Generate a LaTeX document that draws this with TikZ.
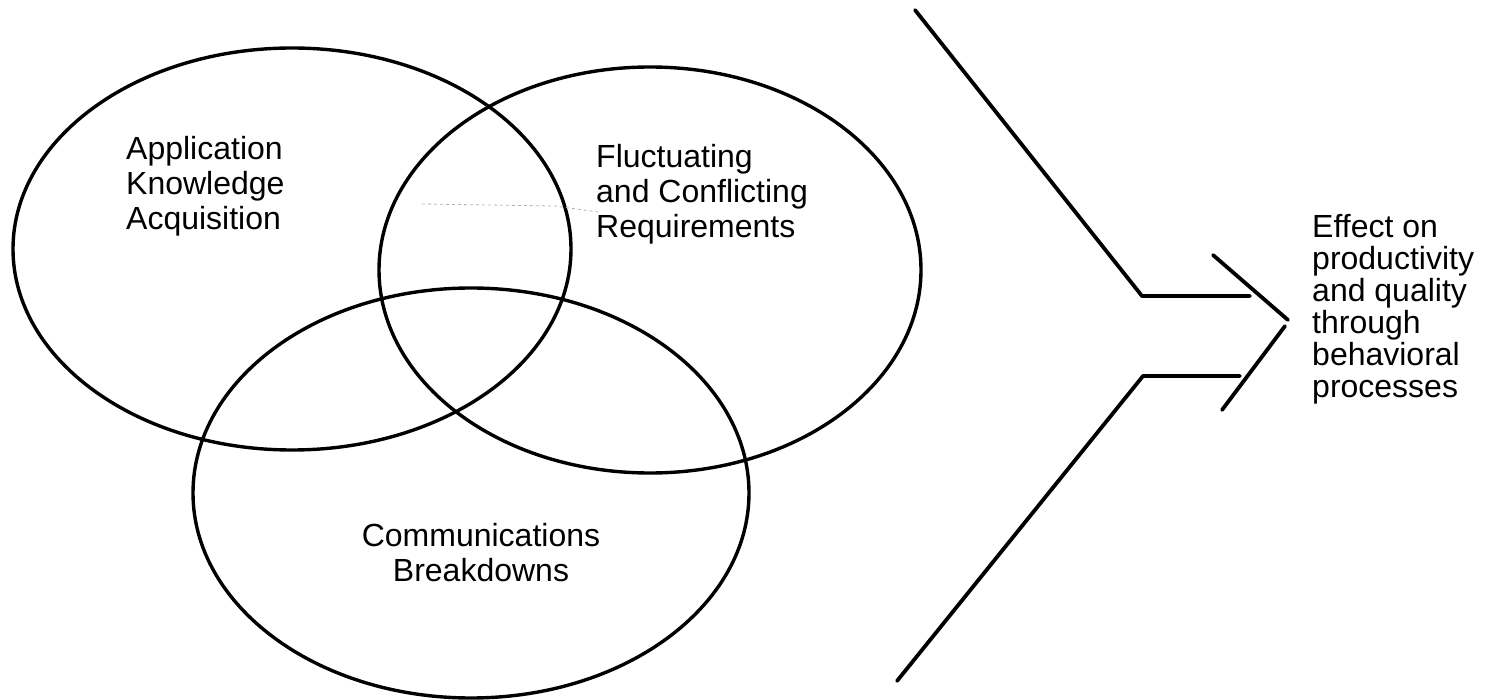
\documentclass[tikz,border=0pt]{standalone}
\usepackage{fontspec}
\setmainfont{Liberation Sans}
\tikzset{
  lbl/.style={inner sep=0pt,align=left,font=\fontsize{32}{35}\selectfont},
  rim/.style={line width=3.4pt},
  chev/.style={line width=3.8pt,line cap=round,line join=round}
}
\begin{document}
\begin{tikzpicture}[x=1pt,y=-1pt]
  \useasboundingbox (0,0) rectangle (1489,700);
  \coordinate (A) at (292,249);
  \coordinate (F) at (650,270);
  \coordinate (C) at (471,493);
  \draw[rim] (A) ellipse [x radius=279, y radius=201];
  \draw[rim] (F) ellipse [x radius=271, y radius=203];
  \draw[rim] (C) ellipse [x radius=278, y radius=205];
  \node[lbl,anchor=base west] (appl) at (126,230) {Application\\Knowledge\\Acquisition};
  \node[lbl,anchor=base west] (fluct) at (596,238) {Fluctuating\\and Conflicting\\Requirements};
  \node[lbl,anchor=base,align=center] (comm) at (481,581) {Communications\\Breakdowns};
  % faint line across the overlap
  \coordinate (d1) at (422,204);
  \coordinate (d2) at (555,206);
  \coordinate (d3) at (598,212);
  \draw[gray!60,line width=0.8pt,dashed] (d1) -- (d2) -- (d3);
  % the big chevron
  \coordinate (t0) at (915,10);
  \coordinate (t1) at (1142,296);
  \coordinate (t2) at (1250,296);
  \coordinate (b0) at (897,681);
  \coordinate (b1) at (1143,376);
  \coordinate (b2) at (1240,376);
  \draw[chev] (t0) -- (t1) -- (t2);
  \draw[chev] (b0) -- (b1) -- (b2);
  \coordinate (h0) at (1213,255);
  \coordinate (h1) at (1288,320);
  \coordinate (h2) at (1285,326);
  \coordinate (h3) at (1222,410);
  \draw[chev] (h0) -- (h1);
  \draw[chev] (h2) -- (h3);
  \node[lbl,anchor=base west,font=\fontsize{32}{32}\selectfont] (eff) at (1312,398)
    {Effect on\\productivity\\and quality\\through\\behavioral\\processes};
\end{tikzpicture}
\end{document}
